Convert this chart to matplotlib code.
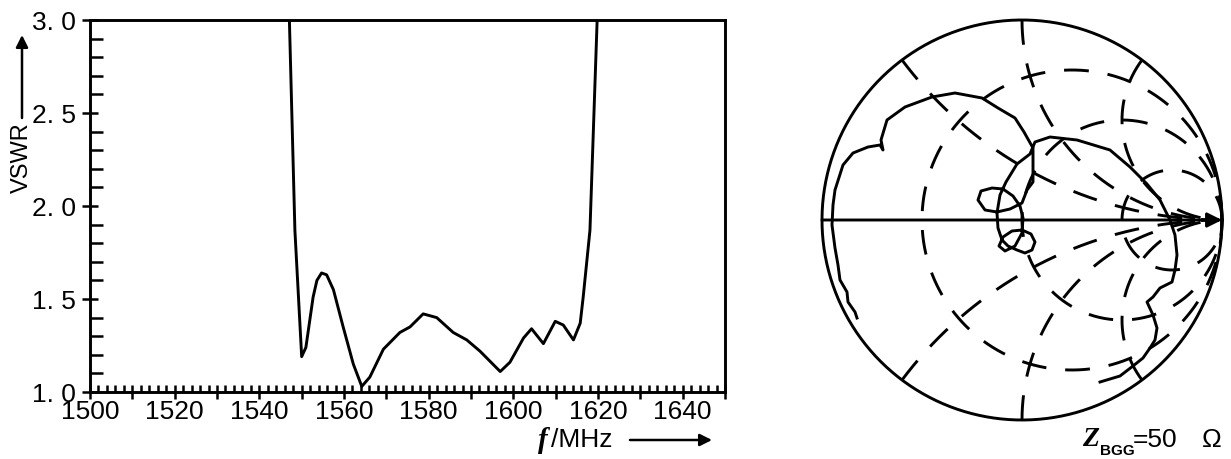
import numpy as np
import matplotlib
matplotlib.use('Agg')
import matplotlib.pyplot as plt

plt.rcParams['font.family'] = ['Liberation Sans', 'DejaVu Sans']

W, H = 1231, 459

# VSWR curve
freq = [1546.5, 1547.1, 1548.4, 1550.0, 1551.0, 1552.7, 1553.6, 1554.7, 1555.9,
        1557.5, 1559.8, 1562.2, 1564.2, 1566.1, 1569.3, 1573.2, 1575.6, 1578.7,
        1581.9, 1585.8, 1589.0, 1592.1, 1596.9, 1599.2, 1602.4, 1604.3, 1607.1,
        1609.9, 1611.8, 1614.2, 1615.8, 1616.5, 1618.1, 1619.8, 1620.3]
vswr = [3.3, 3.0, 1.87, 1.19, 1.24, 1.51, 1.60, 1.64, 1.63,
        1.55, 1.35, 1.15, 1.03, 1.08, 1.23, 1.32, 1.35, 1.42,
        1.40, 1.32, 1.28, 1.22, 1.11, 1.16, 1.29, 1.34, 1.26,
        1.38, 1.36, 1.28, 1.37, 1.51, 1.87, 3.0, 3.3]

x_major = list(range(1500, 1651, 10))
x_labels = [str(v) if v % 20 == 0 else '' for v in x_major]
y_major = [1.0, 1.5, 2.0, 2.5, 3.0]
y_labels = ['1. 0', '1. 5', '2. 0', '2. 5', '3. 0']

# Smith chart grid circles and measured reflection coefficient locus
r_vals = [1 / 3, 1.0, 3.0]
x_vals = [0.5, 1.0, 2.0, -0.5, -1.0, -2.0]
trace_re = [-0.825, -0.835, -0.87, -0.875, -0.91, -0.92, -0.935, -0.95, -0.945, -0.935,
            -0.895, -0.845, -0.77, -0.71, -0.695, -0.705, -0.675, -0.585, -0.45, -0.335,
            -0.2, -0.12, -0.035, 0.01, 0.055, 0.055, 0.025, 0.0,
            -0.06, -0.125, -0.185, -0.22, -0.205, -0.15, -0.095, -0.045, -0.01, 0.005,
            0.0, -0.035, -0.085, -0.115, -0.095, -0.05, 0.0, 0.045, 0.065, 0.05, 0.015,
            -0.025, -0.07, -0.1,
            -0.12, -0.125, -0.11, -0.08, -0.025, 0.04, 0.065, 0.14, 0.275, 0.44, 0.54,
            0.625, 0.69, 0.74, 0.765, 0.775, 0.765, 0.75, 0.69, 0.655, 0.625, 0.655,
            0.675, 0.665, 0.64, 0.605, 0.555, 0.49, 0.39]
trace_im = [-0.49, -0.46, -0.41, -0.36, -0.30, -0.225, -0.14, -0.025, 0.075, 0.15,
            0.275, 0.335, 0.365, 0.375, 0.35, 0.40, 0.50, 0.565, 0.615, 0.635,
            0.61, 0.56, 0.51, 0.44, 0.36, 0.19, 0.15, 0.085,
            0.055, 0.04, 0.05, 0.10, 0.145, 0.16, 0.155, 0.12, 0.07, 0.01,
            -0.065, -0.13, -0.155, -0.13, -0.085, -0.055, -0.05, -0.07, -0.11, -0.15, -0.165,
            -0.15, -0.13, -0.10,
            -0.04, 0.035, 0.125, 0.19, 0.28, 0.33, 0.39, 0.415, 0.40, 0.35, 0.265,
            0.18, 0.10, 0.0, -0.075, -0.175, -0.25, -0.31, -0.34, -0.385, -0.41, -0.475,
            -0.54, -0.60, -0.64, -0.69, -0.73, -0.78, -0.81]

LW = 2.1
DASH = (0, (8.5, 6.5))

fig = plt.figure(figsize=(W / 100, H / 100), dpi=100)

# ---- VSWR plot
ax = fig.add_axes([90 / W, (H - 392) / H, 635 / W, 372 / H])
ax.plot(freq, vswr, color='k', lw=LW, solid_joinstyle='round')
ax.set_xlim(1500, 1650)
ax.set_ylim(1, 3)
ax.set_xticks(x_major)
ax.set_xticklabels(x_labels)
ax.set_xticks(np.arange(1500, 1651, 2), minor=True)
ax.set_yticks(y_major)
ax.set_yticklabels(y_labels)
ax.set_yticks(np.arange(1.0, 3.01, 0.1), minor=True)
for s in ax.spines.values():
    s.set_linewidth(2.1)
ax.tick_params(axis='x', which='major', direction='inout', length=10, width=1.8, pad=1, labelsize=19)
ax.tick_params(axis='x', which='minor', direction='in', length=5, width=1.8)
ax.tick_params(axis='y', which='major', direction='inout', length=12, width=1.8, pad=4, labelsize=19)
ax.tick_params(axis='y', which='minor', direction='in', length=9, width=1.8)


def fpos(x, y):
    return x / W, 1 - y / H


fig.text(*fpos(22, 158), 'VSWR', rotation=90, ha='center', va='center', size=17)
ax.annotate('', xy=(22, H - 35), xytext=(22, H - 118), xycoords='figure pixels',
            textcoords='figure pixels', annotation_clip=False,
            arrowprops=dict(arrowstyle='-|>', color='k', lw=1.8, mutation_scale=18,
                            shrinkA=0, shrinkB=0))
fig.text(*fpos(543, 440), 'f', family=['Liberation Serif', 'DejaVu Serif'], style='italic',
         weight='bold', size=21, ha='center', va='center')
fig.text(*fpos(551, 440), '/MHz', ha='left', va='center', size=19)
ax.annotate('', xy=(712, H - 440), xytext=(630, H - 440), xycoords='figure pixels',
            textcoords='figure pixels', annotation_clip=False,
            arrowprops=dict(arrowstyle='-|>', color='k', lw=1.8, mutation_scale=18,
                            shrinkA=0, shrinkB=0))

# ---- Smith chart
sax = fig.add_axes([818 / W, (H - 424) / H, 408 / W, 408 / H])
sax.set_xlim(-1.02, 1.02)
sax.set_ylim(-1.02, 1.02)
sax.axis('off')

phi = np.linspace(0, 2 * np.pi, 500)
sax.plot(np.cos(phi), np.sin(phi), color='k', lw=LW)

for r in r_vals:
    c, rad = r / (1 + r), 1 / (1 + r)
    sax.plot(c + rad * np.cos(phi), rad * np.sin(phi), color='k', lw=LW,
             linestyle=DASH)

rr = np.tan(np.linspace(0, np.pi / 2 * 0.995, 800))
for xv in x_vals:
    z = rr + 1j * xv
    g = (z - 1) / (z + 1)
    sax.plot(g.real, g.imag, color='k', lw=LW, linestyle=DASH)

sax.annotate('', xy=(1.0, 0), xytext=(-1.0, 0),
             arrowprops=dict(arrowstyle='-|>', color='k', lw=LW, mutation_scale=22,
                             shrinkA=0, shrinkB=0))
sax.plot(trace_re, trace_im, color='k', lw=LW, solid_joinstyle='round')

fig.text(*fpos(1091, 440), 'Z', family=['Liberation Serif', 'DejaVu Serif'], style='italic',
         weight='bold', size=20, ha='center', va='center')
fig.text(*fpos(1100, 451), 'BGG', weight='bold', size=11, ha='left', va='center')
fig.text(*fpos(1133, 440), '=50', ha='left', va='center', size=19)
fig.text(*fpos(1212, 440), 'Ω', ha='center', va='center', size=19)

fig.savefig('out.png', dpi=100)
